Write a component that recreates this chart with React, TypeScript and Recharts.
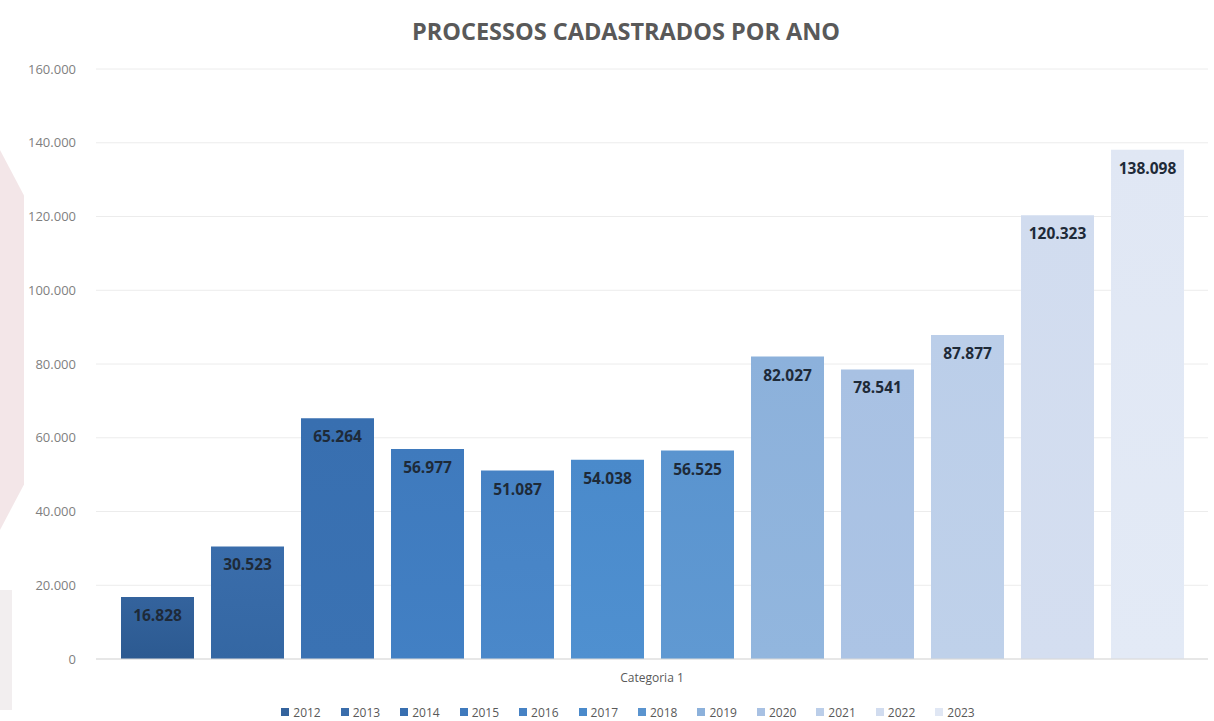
import React from "react";
import { BarChart, Bar, XAxis, YAxis, CartesianGrid, Legend, LabelList } from "recharts";

const categories = ["Categoria 1"];
const years = ["2012", "2013", "2014", "2015", "2016", "2017", "2018", "2019", "2020", "2021", "2022", "2023"];
const values = [16828, 30523, 65264, 56977, 51087, 54038, 56525, 82027, 78541, 87877, 120323, 138098];
const colorsTop = ["#34639d", "#3a6dab", "#386fb0", "#3f7abd", "#4682c4", "#4a8acb", "#5a94cf", "#8cb1db", "#a8c1e3", "#bbcee9", "#d1dcef", "#e0e7f4"];
const colorsBottom = ["#2c5a91", "#3467a3", "#3a72b3", "#4280c4", "#4a88ca", "#4f90d0", "#6099d2", "#92b6de", "#acc4e5", "#bfd1ea", "#d4def0", "#e3eaf6"];
const yTicks = [0, 20000, 40000, 60000, 80000, 100000, 120000, 140000, 160000];

const fmt = (v: number) => v.toLocaleString("de-DE");

const data = categories.map((c) => {
  const row: Record<string, string | number> = { name: c };
  years.forEach((y, i) => {
    row["y" + y] = values[i];
  });
  return row;
});

const LegendContent = () => (
  <div
    style={{
      display: "flex",
      justifyContent: "center",
      paddingLeft: 40,
      paddingTop: 15,
      height: 32,
      boxSizing: "border-box",
      fontFamily: "'Open Sans', sans-serif",
      fontSize: 12,
      color: "#595959",
      gap: 20,
    }}
  >
    {years.map((y, i) => (
      <div key={y} style={{ display: "flex", alignItems: "center", gap: 4, height: 16 }}>
        <span style={{ display: "inline-block", width: 8, height: 8, background: colorsTop[i] }} />
        <span>{y}</span>
      </div>
    ))}
  </div>
);

export default function App() {
  return (
    <div style={{ position: "absolute", left: 0, top: 0, width: 1214, height: 721, background: "#ffffff", overflow: "hidden" }}>
      <div style={{ position: "absolute", left: 0, top: 150, width: 24, height: 380, background: "#f3e6e8", clipPath: "polygon(0 0, 100% 12%, 100% 88%, 0 100%)" }} />
      <div style={{ position: "absolute", left: 0, top: 590, width: 12, height: 120, background: "#f2eeef" }} />
      <div
        style={{
          position: "absolute",
          left: 0,
          width: 1252,
          top: 15,
          textAlign: "center",
          fontFamily: "'Open Sans', sans-serif",
          fontWeight: 700,
          fontSize: 23.5,
          color: "#595959",
        }}
      >
        PROCESSOS CADASTRADOS POR ANO
      </div>
      <div style={{ position: "absolute", left: 0, top: 0 }}>
        <BarChart width={1214} height={721} data={data} margin={{ top: 69, right: 6, left: 8, bottom: 0 }} barGap={17} barSize={73}>
          <defs>
            {years.map((y, i) => (
              <linearGradient key={y} id={"g" + y} x1="0" y1="0" x2="0" y2="1">
                <stop offset="0%" stopColor={colorsTop[i]} />
                <stop offset="100%" stopColor={colorsBottom[i]} />
              </linearGradient>
            ))}
          </defs>
          <CartesianGrid vertical={false} stroke="#ececec" />
          <XAxis
            dataKey="name"
            tickLine={false}
            axisLine={{ stroke: "#d9d9d9" }}
            tick={{ fill: "#595959", fontSize: 12, fontFamily: "'Open Sans', sans-serif" }}
            height={30}
            tickMargin={8}
          />
          <YAxis
            domain={[0, 160000]}
            ticks={yTicks}
            tickFormatter={fmt}
            axisLine={false}
            tickLine={false}
            tickSize={0}
            tickMargin={20}
            width={88}
            tick={{ fill: "#7f7f7f", fontSize: 13, fontFamily: "'Open Sans', sans-serif" }}
          />
          <Legend content={<LegendContent />} verticalAlign="bottom" height={32} />
          {years.map((y, i) => (
            <Bar key={y} dataKey={"y" + y} name={y} fill={"url(#g" + y + ")"} isAnimationActive={false}>
              <LabelList
                dataKey={"y" + y}
                position="insideTop"
                offset={13}
                formatter={(v: number) => fmt(v)}
                style={{ fill: "#1e2a38", fontSize: 15.5, fontWeight: 700, fontFamily: "'Open Sans', sans-serif" }}
              />
            </Bar>
          ))}
        </BarChart>
      </div>
    </div>
  );
}
